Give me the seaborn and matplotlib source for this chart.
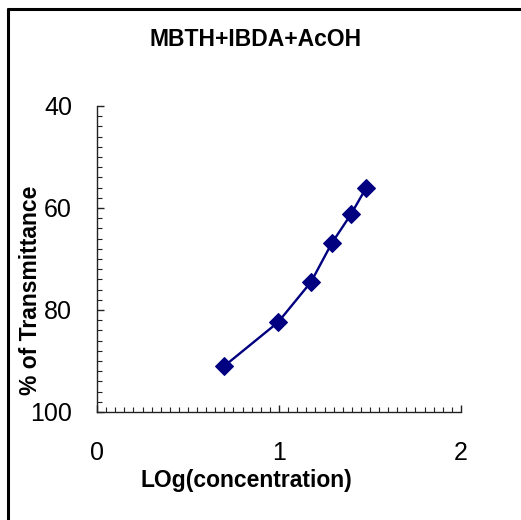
import numpy as np
import pandas as pd
import matplotlib
matplotlib.use("Agg")
import matplotlib.pyplot as plt
import seaborn as sns
from matplotlib.ticker import MultipleLocator
from matplotlib.lines import Line2D

# Data
log_conc = [0.699, 0.995, 1.176, 1.290, 1.396, 1.478]
transmittance = [91.0, 82.4, 74.5, 66.9, 61.2, 56.1]
x_ticks = [0, 1, 2]
y_ticks = [40, 60, 80, 100]

sns.set_theme(style="white")
plt.rcParams['font.family'] = ['Liberation Sans', 'DejaVu Sans']
plt.rcParams['text.color'] = 'black'

df = pd.DataFrame({"x": log_conc, "y": transmittance})

fig = plt.figure(figsize=(5.21, 5.20), dpi=100)
ax = fig.add_axes([97/521, 1-412/520, (461-97)/521, (412-106)/520])

sns.lineplot(data=df, x="x", y="y", ax=ax, color="#000080", lw=1.7,
             marker="D", markersize=9, markeredgecolor="#000080",
             markerfacecolor="#000080", sort=False)

ax.set_xlim(0, 2)
ax.set_ylim(100, 40)
ax.set_xticks(x_ticks)
ax.set_yticks(y_ticks)
ax.xaxis.set_minor_locator(MultipleLocator(0.05))
ax.yaxis.set_minor_locator(MultipleLocator(2))
ax.set_xlabel("")
ax.set_ylabel("")

for s in ["top", "right"]:
    ax.spines[s].set_visible(False)
for s in ["left", "bottom"]:
    ax.spines[s].set_color("#222222")
    ax.spines[s].set_linewidth(1.0)

ax.tick_params(axis="both", which="major", direction="in", length=5, width=1,
               color="#222222", labelsize=18, labelcolor="black")
ax.tick_params(axis="both", which="minor", direction="in", length=3.5, width=0.8,
               color="#222222")
ax.tick_params(axis="y", which="major", pad=18, left=True)
ax.tick_params(axis="x", which="major", pad=21, bottom=True)
ax.tick_params(axis="y", which="minor", left=True)
ax.tick_params(axis="x", which="minor", bottom=True)

fig.text(256/521, 1-39/520, "MBTH+IBDA+AcOH", ha="center", va="center",
         fontsize=16.5, fontweight="bold", color="black")
fig.text(246/521, 1-480/520, "LOg(concentration)", ha="center", va="center",
         fontsize=16.5, fontweight="bold", color="black")
fig.text(31/521, 1-290/520, "% of Transmittance", ha="center", va="center",
         rotation=90, fontsize=16.5, fontweight="bold", color="black")

# figure frame (top and left edges visible)
fig.add_artist(Line2D([8/521, 1.0], [1-9/520, 1-9/520], transform=fig.transFigure,
                      color="black", lw=2.2))
fig.add_artist(Line2D([8/521, 8/521], [0, 1-9/520], transform=fig.transFigure,
                      color="black", lw=2.2))

fig.savefig("out.png", dpi=100)
